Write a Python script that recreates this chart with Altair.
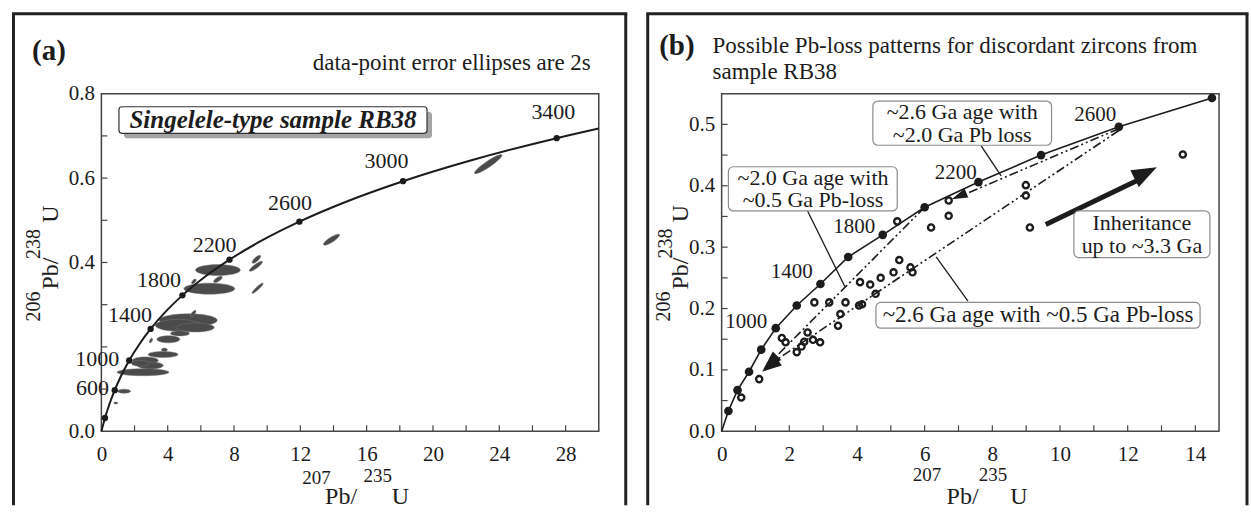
import altair as alt
import pandas as pd

FONT = "Liberation Serif"
INK = "#1c1c1c"
AXC = "#454545"

# ===================== Panel (a) data =====================
# concordia curve (207Pb/235U, 206Pb/238U)
a_curve_x = [0.0, 0.2177, 0.4828, 0.8056, 1.1987, 1.6774, 2.2603, 2.9701, 3.8344, 4.8869,
             6.1685, 7.7292, 9.6296, 11.9437, 14.7617, 18.1931, 22.3716, 27.4597, 30.0]
a_curve_y = [0.0, 0.0315, 0.0640, 0.0975, 0.1321, 0.1678, 0.2046, 0.2426, 0.2817, 0.3221,
             0.3638, 0.4067, 0.4511, 0.4968, 0.5440, 0.5926, 0.6428, 0.6946, 0.7175]
# age markers on the concordia
a_dot_x = [0.2177, 0.8056, 1.6774, 2.9701, 4.8869, 7.7292, 11.9437, 18.1931, 27.4597]
a_dot_y = [0.0315, 0.0975, 0.1678, 0.2426, 0.3221, 0.4067, 0.4968, 0.5926, 0.6946]
a_age_text = ["600", "1000", "1400", "1800", "2200", "2600", "3000", "3400"]
a_age_x = [-0.53, -0.25, 1.72, 3.47, 6.83, 11.38, 17.19, 27.26]
a_age_y = [0.102, 0.172, 0.276, 0.359, 0.442, 0.540, 0.641, 0.757]
# error ellipses: centre, major / minor axis (px), tilt (deg)
ell_x = [7.03, 6.51, 7.03, 5.58, 5.24, 4.64, 5.66, 5.54, 4.74, 4.04, 2.99, 3.80, 3.72,
         2.65, 2.95, 2.35, 2.51, 1.37, 0.87, 9.35, 9.32, 9.42, 13.88, 23.33]
ell_y = [0.382, 0.338, 0.360, 0.355, 0.263, 0.251, 0.246, 0.279, 0.232, 0.218, 0.215, 0.193,
         0.182, 0.168, 0.156, 0.161, 0.140, 0.095, 0.067, 0.4075, 0.391, 0.339, 0.454, 0.633]
ell_major = [45, 51, 10, 6, 58, 46, 38, 8, 19, 23, 5, 6, 30, 26, 26, 18, 52, 13, 4, 11, 16, 15, 19, 33]
ell_minor = [11, 11, 4, 3, 13, 12, 9, 3, 5, 7, 2.5, 3.5, 6, 7, 7, 6, 7, 4, 2, 4, 4, 3, 5, 6]
ell_tilt = [0, 0, 327, 315, 0, 0, 0, 310, 0, 0, 300, 0, 0, 0, 0, 0, 0, 0, 0, 317, 324, 317, 327, 326]
a_xlabels = [0, 4, 8, 12, 16, 20, 24, 28]
a_xticks = [2, 4, 6, 8, 10, 12, 14, 16, 18, 20, 22, 24, 26, 28]
a_ylabels = [0.0, 0.4, 0.6, 0.8]
a_yticks = [0.1, 0.2, 0.3, 0.4, 0.5, 0.6, 0.7]

# ===================== Panel (b) data =====================
b_dot_x = [0.20, 0.47, 0.81, 1.17, 1.60, 2.22, 2.92, 3.74, 4.76, 6.00, 7.59, 9.44, 11.74, 14.49]
b_dot_y = [0.033, 0.067, 0.097, 0.133, 0.168, 0.205, 0.240, 0.284, 0.320, 0.365, 0.406, 0.450, 0.496, 0.543]
b_age_text = ["1000", "1400", "1800", "2200", "2600"]
b_age_x = [0.73, 2.07, 3.92, 6.92, 11.04]
b_age_y = [0.178, 0.259, 0.332, 0.421, 0.515]
b_zr_x = [0.58, 1.11, 1.78, 1.89, 2.22, 2.36, 2.44, 2.54, 2.70, 2.91, 2.74, 3.18, 3.66, 3.44, 3.51,
          4.06, 4.15, 4.09, 4.39, 4.55, 4.70, 5.08, 5.25, 5.58, 5.64, 5.19, 6.19, 6.71, 6.71,
          8.99, 8.99, 9.11, 13.63]
b_zr_y = [0.055, 0.085, 0.152, 0.145, 0.129, 0.138, 0.146, 0.161, 0.149, 0.145, 0.210, 0.210, 0.210,
          0.172, 0.191, 0.205, 0.207, 0.243, 0.239, 0.224, 0.250, 0.259, 0.279, 0.267, 0.259,
          0.342, 0.332, 0.351, 0.376, 0.401, 0.384, 0.332, 0.451]
# Pb-loss chords (dash-dot-dot)
loss_x1 = [11.74, 11.74, 6.00]
loss_y1 = [0.493, 0.490, 0.365]
loss_x2 = [7.10, 1.45, 1.45]
loss_y2 = [0.384, 0.110, 0.113]
# pointer lines from label boxes
ptr_x1 = [7.67, 2.54, 7.28]
ptr_y1 = [0.465, 0.359, 0.212]
ptr_x2 = [8.26, 3.64, 6.34]
ptr_y2 = [0.416, 0.236, 0.284]
# label boxes
box_x1 = [4.47, 0.20, 4.56, 10.41]
box_x2 = [9.75, 5.19, 14.14, 14.43]
box_y1 = [0.466, 0.359, 0.168, 0.283]
box_y2 = [0.538, 0.431, 0.210, 0.359]
# two-line labels (first-line position) and the one-line label
lab2_text = ["~2.6 Ga age with\n~2.0 Ga Pb loss", "~2.0 Ga age with\n~0.5 Ga Pb-loss",
             "Inheritance\nup to ~3.3 Ga"]
lab2_x = [7.11, 2.70, 12.42]
lab2_y = [0.520, 0.413, 0.339]
lab1_text = ["~2.6 Ga age with ~0.5 Ga Pb-loss"]
lab1_x = [9.35]
lab1_y = [0.190]
inh_x = [9.58, 12.45]
inh_y = [0.337, 0.413]
b_xlabels = [0, 2, 4, 6, 8, 10, 12, 14]
b_xticks = [1, 2, 3, 4, 5, 6, 7, 8, 9, 10, 11, 12, 13, 14]
b_ylabels = [0.0, 0.1, 0.2, 0.3, 0.4, 0.5]
b_yticks = [0.05, 0.1, 0.15, 0.2, 0.25, 0.3, 0.35, 0.4, 0.45, 0.5]

# ===================== helpers =====================
W, H = 498, 338
ONE = pd.DataFrame({"k": [0]})

xa_scale = alt.Scale(domain=[0, 30], nice=False, zero=False)
ya_scale = alt.Scale(domain=[0, 0.8], nice=False, zero=False)
xb_scale = alt.Scale(domain=[0, 14.7], nice=False, zero=False)
yb_scale = alt.Scale(domain=[0, 0.55], nice=False, zero=False)


def axis(values, fmt, pad):
    return alt.Axis(values=values, format=fmt, title=None, grid=False, domain=False,
                    ticks=False, tickSize=0, labelFont=FONT, labelFontSize=21,
                    labelColor=INK, labelPadding=pad, labelFlush=False, labelOverlap=False)


def xa(f):
    return alt.X(f, type="quantitative", scale=xa_scale, axis=axis(a_xlabels, "d", 12))


def ya(f):
    return alt.Y(f, type="quantitative", scale=ya_scale, axis=axis(a_ylabels, ".1f", 7))


def xb(f):
    return alt.X(f, type="quantitative", scale=xb_scale, axis=axis(b_xlabels, "d", 12))


def yb(f):
    return alt.Y(f, type="quantitative", scale=yb_scale, axis=axis(b_ylabels, ".1f", 7))


def ptext(t, x, y, size, angle=0, weight="normal", style="normal", align="center",
          baseline="middle"):
    return alt.Chart(ONE).mark_text(
        text=t, font=FONT, fontSize=size, color=INK, angle=angle, fontWeight=weight,
        fontStyle=style, align=align, baseline=baseline).encode(x=alt.value(x), y=alt.value(y))


def frame(left, right, top, bottom):
    sw = 3
    return [
        alt.Chart(ONE).mark_rule(color="#222", strokeWidth=sw).encode(
            x=alt.value(left), x2=alt.value(left), y=alt.value(top), y2=alt.value(bottom)),
        alt.Chart(ONE).mark_rule(color="#222", strokeWidth=sw).encode(
            x=alt.value(right), x2=alt.value(right), y=alt.value(top), y2=alt.value(bottom)),
        alt.Chart(ONE).mark_rule(color="#222", strokeWidth=sw).encode(
            x=alt.value(left - 1.5), x2=alt.value(right + 1.5), y=alt.value(top), y2=alt.value(top)),
    ]


def ticks(xenc, yenc, xt, yt):
    return [
        alt.Chart(pd.DataFrame({"v": xt})).mark_rule(color=AXC, strokeWidth=1.2).encode(
            x=xenc("v"), y=alt.value(H), y2=alt.value(H - 6)),
        alt.Chart(pd.DataFrame({"v": yt})).mark_rule(color=AXC, strokeWidth=1.2).encode(
            y=yenc("v"), x=alt.value(0), x2=alt.value(6)),
    ]


def ellipse_path(r):
    k = 0.5523
    return (f"M-1,0 C-1,{-k*r:.4f} {-k:.4f},{-r:.4f} 0,{-r:.4f} "
            f"C{k:.4f},{-r:.4f} 1,{-k*r:.4f} 1,0 "
            f"C1,{k*r:.4f} {k:.4f},{r:.4f} 0,{r:.4f} "
            f"C{-k:.4f},{r:.4f} -1,{k*r:.4f} -1,0 Z")


# ===================== Panel (a) =====================
ell_df = pd.DataFrame({
    "x": ell_x, "y": ell_y,
    "shape": [ellipse_path(h / w) for w, h in zip(ell_major, ell_minor)],
    "size": [w * w for w in ell_major],
    "ang": ell_tilt,
})
ellipses = alt.Chart(ell_df).mark_point(
    filled=True, fill="#4b4b4b", stroke="#777777", strokeWidth=0.5, opacity=1).encode(
    x=xa("x"), y=ya("y"),
    shape=alt.Shape("shape:N", scale=None, legend=None),
    size=alt.Size("size:Q", scale=None, legend=None),
    angle=alt.Angle("ang:Q", scale=None))

curve_a = alt.Chart(pd.DataFrame({"x": a_curve_x, "y": a_curve_y})).mark_line(
    color=INK, strokeWidth=2, interpolate="monotone").encode(x=xa("x"), y=ya("y"))
dots_a = alt.Chart(pd.DataFrame({"x": a_dot_x, "y": a_dot_y})).mark_circle(
    color=INK, size=40, opacity=1).encode(x=xa("x"), y=ya("y"))
ages_a = alt.Chart(pd.DataFrame({"x": a_age_x, "y": a_age_y, "t": a_age_text})).mark_text(
    font=FONT, fontSize=22, color=INK).encode(x=xa("x"), y=ya("y"), text="t:N")

box_a = pd.DataFrame({"x1": [1.06], "x2": [19.64], "y1": [0.706], "y2": [0.769]})
shadow_a = alt.Chart(box_a).mark_rect(fill="#a5a5a5", xOffset=5, x2Offset=5, yOffset=5,
                                      y2Offset=5, cornerRadius=3).encode(
    x=xa("x1"), x2="x2", y=ya("y1"), y2="y2")
rect_a = alt.Chart(box_a).mark_rect(fill="white", stroke="#333", strokeWidth=1.2,
                                    cornerRadius=3).encode(
    x=xa("x1"), x2="x2", y=ya("y1"), y2="y2")
boxtext_a = alt.Chart(pd.DataFrame({"x": [10.35], "y": [0.738], "t": ["Singelele-type sample RB38"]})).mark_text(
    font=FONT, fontSize=25, fontWeight="bold", fontStyle="italic", color=INK).encode(
    x=xa("x"), y=ya("y"), text="t:N")

texts_a = [
    ptext("(a)", -52.5, -34, 29, weight="bold", baseline="alphabetic"),
    ptext("data-point error ellipses are 2s", 490, -23.7, 23, align="right", baseline="alphabetic"),
    ptext("206", -67, 213, 20, angle=270),
    ptext("Pb/", -50.6, 180, 24, angle=270),
    ptext("238", -67, 150.5, 20, angle=270),
    ptext("U", -50.6, 120.5, 24, angle=270),
    ptext("207", 215.4, 385, 19),
    ptext("Pb/", 240, 404, 24),
    ptext("235", 276.6, 383, 19),
    ptext("U", 299.4, 404, 24),
]

panel_a = alt.layer(
    ellipses, curve_a, dots_a, ages_a, shadow_a, rect_a, boxtext_a,
    *ticks(xa, ya, a_xticks, a_yticks), *texts_a,
    *frame(-88, 525, -80, 412),
).properties(width=W, height=H)

# ===================== Panel (b) =====================
curve_b = alt.Chart(pd.DataFrame({"x": [0.0] + b_dot_x, "y": [0.0] + b_dot_y})).mark_line(
    color=INK, strokeWidth=1.6).encode(x=xb("x"), y=yb("y"))
dots_b = alt.Chart(pd.DataFrame({"x": b_dot_x, "y": b_dot_y})).mark_circle(
    color=INK, size=75, opacity=1).encode(x=xb("x"), y=yb("y"))
zircons = alt.Chart(pd.DataFrame({"x": b_zr_x, "y": b_zr_y})).mark_point(
    shape="circle", filled=False, size=38, strokeWidth=2.4, color=INK, opacity=1).encode(
    x=xb("x"), y=yb("y"))
ages_b = alt.Chart(pd.DataFrame({"x": b_age_x, "y": b_age_y, "t": b_age_text})).mark_text(
    font=FONT, fontSize=21, color=INK).encode(x=xb("x"), y=yb("y"), text="t:N")
loss = alt.Chart(pd.DataFrame({"x1": loss_x1, "y1": loss_y1, "x2": loss_x2, "y2": loss_y2})).mark_rule(
    color=INK, strokeWidth=1.6, strokeDash=[9, 3, 2, 3, 2, 3]).encode(
    x=xb("x1"), y=yb("y1"), x2="x2", y2="y2")
ptrs = alt.Chart(pd.DataFrame({"x1": ptr_x1, "y1": ptr_y1, "x2": ptr_x2, "y2": ptr_y2})).mark_rule(
    color=INK, strokeWidth=1.3).encode(x=xb("x1"), y=yb("y1"), x2="x2", y2="y2")

HEAD = "M0,0 L0.6,2 L-0.6,2 Z"
HEAD_BIG = "M0,0 L0.75,2 L-0.75,2 Z"


def head(x, y, ang, size, path=HEAD):
    return alt.Chart(pd.DataFrame({"x": [x], "y": [y]})).mark_point(
        shape=path, filled=True, color=INK, opacity=1, size=size, angle=ang).encode(
        x=xb("x"), y=yb("y"))


inh_line = alt.Chart(pd.DataFrame({"x": inh_x, "y": inh_y})).mark_line(
    color=INK, strokeWidth=5).encode(x=xb("x"), y=yb("y"))

boxes_b = alt.Chart(pd.DataFrame({"x1": box_x1, "x2": box_x2, "y1": box_y1, "y2": box_y2})).mark_rect(
    fill="white", stroke="#8c8c8c", strokeWidth=1.2, cornerRadius=5).encode(
    x=xb("x1"), x2="x2", y=yb("y1"), y2="y2")
labels2_b = alt.Chart(pd.DataFrame({"x": lab2_x, "y": lab2_y, "t": lab2_text})).mark_text(
    font=FONT, fontSize=22, color=INK, lineBreak="\n", lineHeight=22.5).encode(
    x=xb("x"), y=yb("y"), text="t:N")
labels1_b = alt.Chart(pd.DataFrame({"x": lab1_x, "y": lab1_y, "t": lab1_text})).mark_text(
    font=FONT, fontSize=23, color=INK).encode(x=xb("x"), y=yb("y"), text="t:N")

texts_b = [
    ptext("(b)", -44.8, -39, 29, weight="bold", baseline="alphabetic"),
    ptext("Possible Pb-loss patterns for discordant zircons from", -9.1, -40.3, 23,
          align="left", baseline="alphabetic"),
    ptext("sample RB38", -9.1, -14.7, 23, align="left", baseline="alphabetic"),
    ptext("206", -57.3, 213, 20, angle=270),
    ptext("Pb/", -40.8, 180, 24, angle=270),
    ptext("238", -55.7, 150, 20, angle=270),
    ptext("U", -40.3, 120, 24, angle=270),
    ptext("207", 205.7, 382, 19),
    ptext("Pb/", 241.2, 404, 24),
    ptext("235", 271.7, 382, 19),
    ptext("U", 297.7, 404, 24),
]

panel_b = alt.layer(
    curve_b, loss, ptrs, inh_line,
    head(6.80, 0.378, 247, 256), head(1.19, 0.097, 236, 400), head(1.22, 0.100, 225, 400),
    head(12.86, 0.430, 63, 625, HEAD_BIG),
    dots_b, zircons, ages_b, boxes_b, labels2_b, labels1_b,
    *ticks(xb, yb, b_xticks, b_yticks), *texts_b,
    *frame(-74, 526, -80, 412),
).properties(width=W, height=H)

chart = alt.hconcat(
    panel_a, panel_b, spacing=123, bounds="flush",
    padding={"left": 9.5, "top": 10.5, "right": 0, "bottom": 0},
).configure_view(stroke=AXC, strokeWidth=1.5)

chart.save("out.html", embed_options={"renderer": "svg", "actions": False})
